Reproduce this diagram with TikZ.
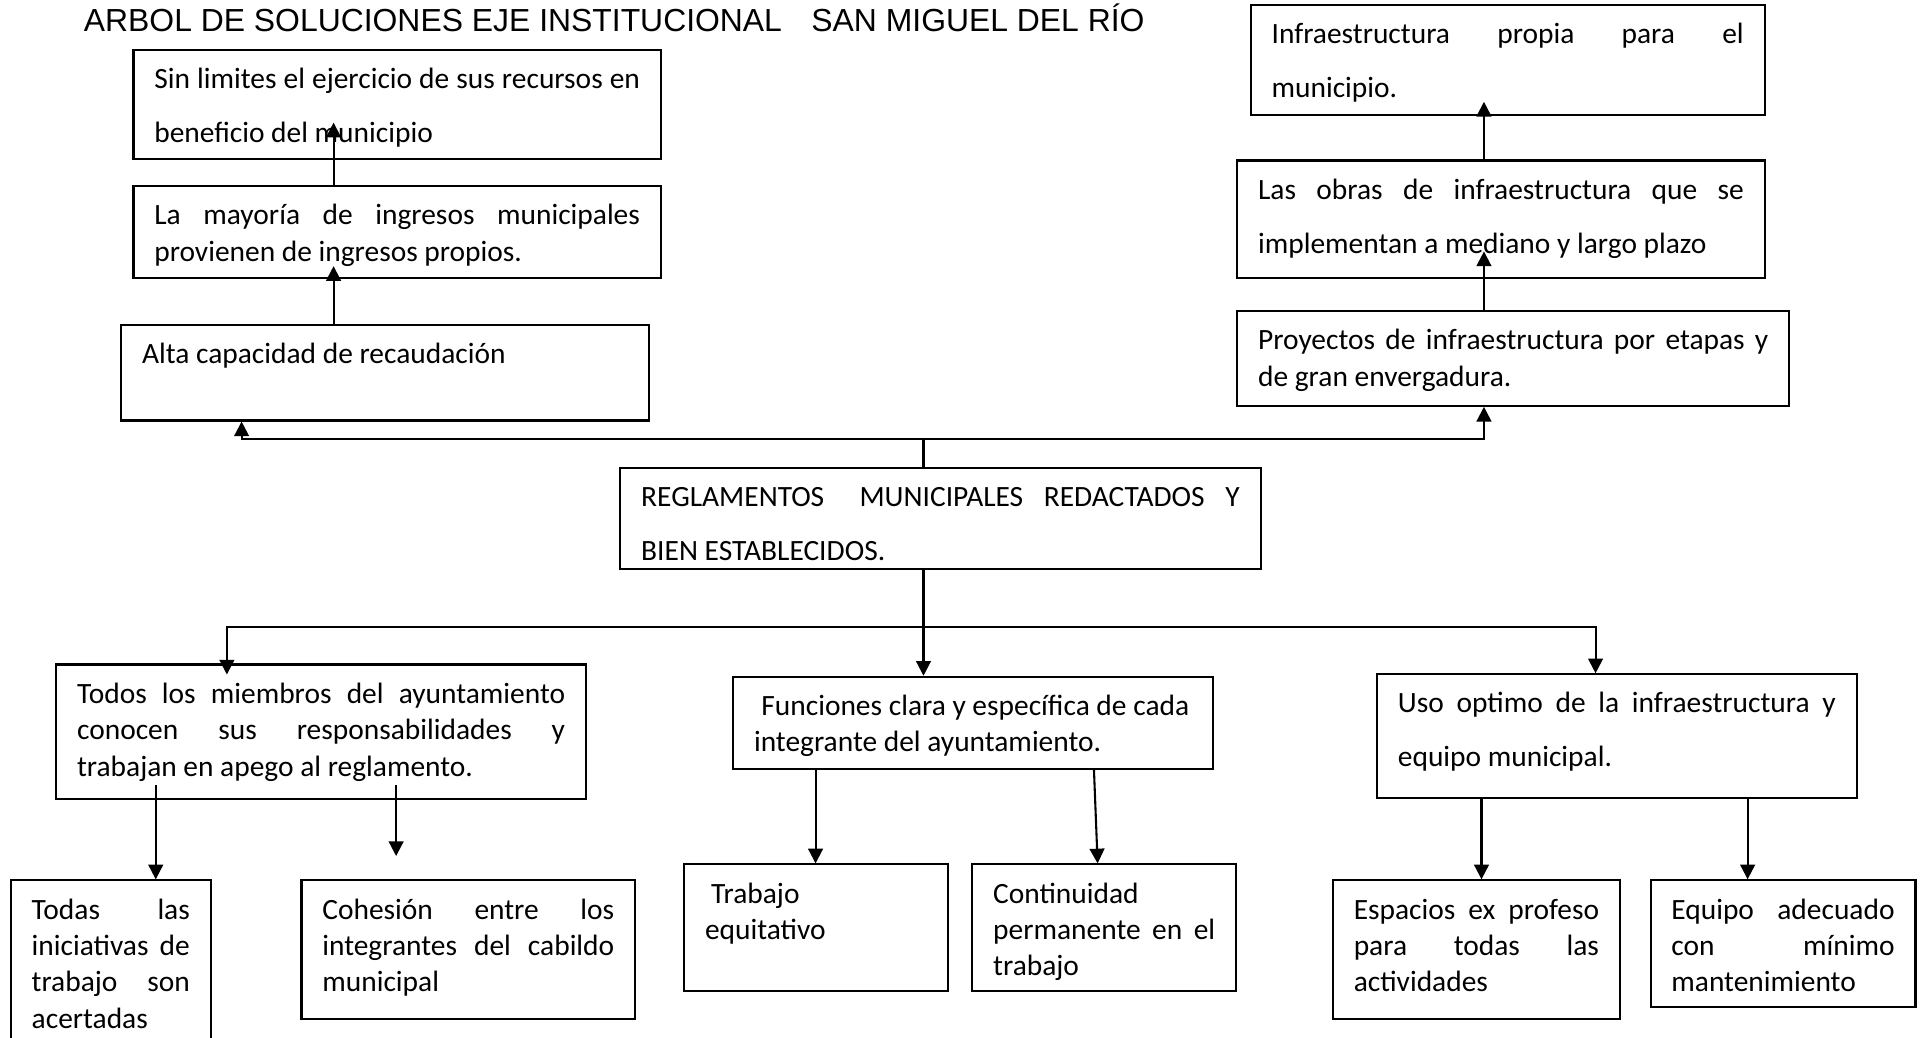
\documentclass[tikz,border=0pt]{standalone}
\usepackage{fontspec}
\setmainfont{Carlito}
\newfontfamily\titlefont{Liberation Sans}
\usetikzlibrary{arrows.meta}

% one justified line / one plain line of a box
\newcommand{\jl}[1]{\hbox to\hsize{\smash{\hbox to\hsize{#1}}}}
\newcommand{\pl}[1]{\hbox to\hsize{\smash{#1}\hfil}}
% box text: [line step]{width}{height}{lines}, in picture units
\newcommand{\celltext}[4][29.7]{%
  \hbox{\kern8.5pt\vbox to\dimexpr#3pt/2\relax{%
    \hsize=\dimexpr#2pt/2-17pt\relax
    \baselineskip=\dimexpr#1pt/2\relax \lineskiplimit=-\maxdimen
    \kern15.75pt #4\vfil}\kern8.5pt}}

\begin{document}
\begin{tikzpicture}[x=0.5pt, y=-0.5pt]
    \tikzstyle{arrow} = [line width=0.85pt, -{Triangle[length=6pt, width=6pt]}]
    \tikzstyle{line} = [line width=0.85pt]
    \tikzstyle{cell} = [draw, line width=0.85pt, anchor=north west, inner sep=0pt, font=\fontsize{12pt}{14.85pt}\selectfont]
    \useasboundingbox (0,0) rectangle (1568,846);

    \node[anchor=base west, inner sep=0pt, font=\titlefont\fontsize{13pt}{15pt}\selectfont] (title) at (68,26) {ARBOL DE SOLUCIONES EJE INSTITUCIONAL\hspace{12pt}SAN MIGUEL DEL RÍO};

    \node[cell] (sinlim) at (108,40) {\celltext[44]{430}{89}{\jl{Sin limites el ejercicio de sus recursos en}\pl{beneficio del municipio}}};
    \node[cell] (mayoria) at (108,151) {\celltext{430}{75}{\jl{La mayoría de ingresos municipales}\pl{provienen de ingresos propios.}}};
    \node[cell] (alta) at (98,264) {\celltext{430}{78}{\pl{Alta capacidad de recaudación}}};
    \node[cell] (propia) at (1019,3) {\celltext[44]{419}{90}{\jl{Infraestructura propia para el}\pl{municipio.}}};
    \node[cell] (obras) at (1008,130) {\celltext[44]{430}{96}{\jl{Las obras de infraestructura que se}\pl{implementan a mediano y largo plazo}}};
    \node[cell] (proyectos) at (1008,253) {\celltext{450}{77}{\jl{Proyectos de infraestructura por etapas y}\pl{de gran envergadura.}}};
    \node[cell] (regla) at (505,381) {\celltext[44]{522}{82}{\jl{REGLAMENTOS\hspace{6pt} MUNICIPALES REDACTADOS Y}\pl{BIEN ESTABLECIDOS.}}};
    \node[cell] (miembros) at (45,541) {\celltext{432}{110}{\jl{Todos los miembros del ayuntamiento}\jl{conocen sus responsabilidades y}\pl{trabajan en apego al reglamento.}}};
    \node[cell] (funciones) at (597,551) {\celltext{391}{75}{\pl{\hspace{3pt}Funciones clara y específica de cada}\pl{integrante del ayuntamiento.}}};
    \node[cell] (uso) at (1122,549) {\celltext[44]{391}{101}{\jl{Uso optimo de la infraestructura y}\pl{equipo municipal.}}};
    \node[cell] (todas) at (8,717) {\celltext{163}{140}{\jl{Todas las}\jl{iniciativas de}\jl{trabajo son}\pl{acertadas}}};
    \node[cell] (cohesion) at (245,717) {\celltext{272}{113}{\jl{Cohesión entre los}\jl{integrantes del cabildo}\pl{municipal}}};
    \node[cell] (equitativo) at (557,704) {\celltext{215}{103}{\pl{\hspace{2.5pt}Trabajo}\pl{equitativo}}};
    \node[cell] (continuidad) at (792,704) {\celltext{215}{103}{\pl{Continuidad}\jl{permanente en el}\pl{trabajo}}};
    \node[cell] (espacios) at (1086,717) {\celltext{234}{113}{\jl{Espacios ex profeso}\jl{para todas las}\pl{actividades}}};
    \node[cell] (equipo) at (1345,717) {\celltext{216}{103}{\jl{Equipo adecuado}\jl{con mínimo}\pl{mantenimiento}}};

    % upper branch
    \coordinate (upM) at (753,358);
    \coordinate (upL) at (197,358);
    \coordinate (upR) at (1210,358);
    \coordinate (tipA) at (272,217);
    \coordinate (tipB) at (272,100);
    \coordinate (tipC) at (1210,205);
    \coordinate (tipD) at (1210,83);
    \draw[line] (regla.north -| upM) -- (upM);
    \draw[arrow] (upM) -- (upL) -- (alta.south -| upL);
    \draw[arrow] (upM) -- (upR) -- (proyectos.south -| upR);
    \draw[arrow] (alta.north -| tipA) -- (tipA);
    \draw[arrow] (mayoria.north -| tipB) -- (tipB);
    \draw[arrow] (proyectos.north -| tipC) -- (tipC);
    \draw[arrow] (obras.north -| tipD) -- (tipD);

    % lower branch
    \coordinate (dnM) at (753,511);
    \coordinate (dnL) at (185,511);
    \coordinate (dnR) at (1301,511);
    \coordinate (tipE) at (185,550);
    \draw[arrow] (regla.south -| dnM) -- (funciones.north -| dnM);
    \draw[arrow] (dnM) -- (dnL) -- (tipE);
    \draw[arrow] (dnM) -- (dnR) -- (uso.north -| dnR);

    \coordinate (s1) at (127,640);
    \coordinate (s2) at (323,640);
    \coordinate (e2) at (323,698);
    \coordinate (m1) at (665,0);
    \coordinate (m2) at (892,0);
    \coordinate (m3) at (895,0);
    \coordinate (u1) at (1208,0);
    \coordinate (u2) at (1425,0);
    \draw[arrow] (s1) -- (todas.north -| s1);
    \draw[arrow] (s2) -- (e2);
    \draw[arrow] (funciones.south -| m1) -- (equitativo.north -| m1);
    \draw[arrow] (funciones.south -| m2) -- (continuidad.north -| m3);
    \draw[arrow] (uso.south -| u1) -- (espacios.north -| u1);
    \draw[arrow] (uso.south -| u2) -- (equipo.north -| u2);
\end{tikzpicture}
\end{document}
